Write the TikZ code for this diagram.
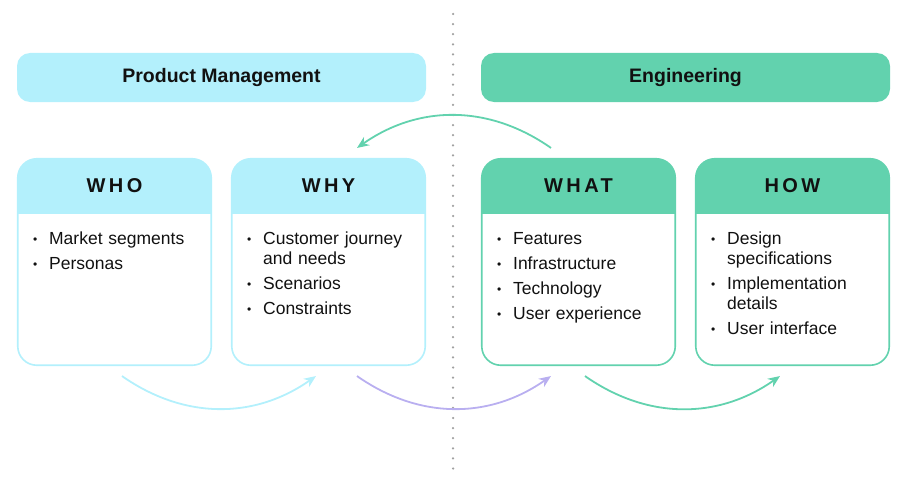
\documentclass[tikz,border=0pt]{standalone}
\usepackage{fontspec}
\setmainfont{Liberation Sans}
\newfontfamily\capsfont{Liberation Sans}[LetterSpace=17]
\usepackage{enumitem}
\usetikzlibrary{arrows.meta}
\definecolor{pmcyan}{HTML}{B3F0FC}
\definecolor{enggreen}{HTML}{62D2AE}
\definecolor{flowpurple}{HTML}{B9AFF0}
\definecolor{divgray}{HTML}{A0A0A0}
\definecolor{ink}{HTML}{111111}
\tikzset{
    every node/.style={text=ink},
    banner/.style={rounded corners=13pt, minimum width=409pt,
        minimum height=49pt, inner sep=0pt,
        font=\bfseries\fontsize{19.5}{22}\selectfont},
    card/.style={draw=#1, fill=white, line width=1.6pt, rounded corners=19pt,
        minimum width=193.5pt, minimum height=206.5pt, inner sep=0pt,
        path picture={\fill[#1, sharp corners]
            ([yshift=2pt]path picture bounding box.north west)
            rectangle ([yshift=-55pt]path picture bounding box.north east);}},
    cardtitle/.style={font=\capsfont\bfseries\fontsize{20}{22}\selectfont},
    bullets/.style={anchor=north west, text width=165pt, inner sep=0pt,
        align=left, font=\fontsize{17.5}{20}\selectfont}
}
\tikzset{
    flow/.style={line width=1.8pt, -{Stealth[length=12pt,width=10pt]}}
}
\newcommand{\bulletlist}[1]{%
    \begin{itemize}[leftmargin=16pt, labelwidth=16pt, labelsep=0pt, align=left,
        label={\raisebox{0.8pt}{\fontsize{12}{12}\selectfont\textbullet}},
        itemsep=5pt, topsep=0pt, parsep=0pt, partopsep=0pt]#1\end{itemize}}

\begin{document}
\begin{tikzpicture}[x=1pt, y=1pt]
    \useasboundingbox (0,0) rectangle (908,-487);

    % divider between the two teams
    \coordinate (divtop) at (453,-14);
    \coordinate (divbot) at (453,-470);
    \draw[divgray, line width=2.5pt, line cap=round,
        dash pattern=on 0pt off 10.1pt] (divtop) -- (divbot);

    \node (pm) [banner, fill=pmcyan] at (221.5,-77.5) {Product Management};
    \node (eng) [banner, fill=enggreen] at (685.5,-77.5) {Engineering};

    \node (who) [card=pmcyan] at (114.5,-262) {};
    \node (why) [card=pmcyan] at (328.5,-262) {};
    \node (what) [card=enggreen] at (578.5,-262) {};
    \node (how) [card=enggreen] at (792.5,-262) {};

    \node (whot) [cardtitle] at ([yshift=-28pt]who.north) {WHO};
    \node (whyt) [cardtitle] at ([yshift=-28pt]why.north) {WHY};
    \node (whatt) [cardtitle] at ([yshift=-28pt]what.north) {WHAT};
    \node (howt) [cardtitle] at ([yshift=-28pt]how.north) {HOW};

    \node (whol) [bullets] at ([xshift=16pt, yshift=-66pt]who.north west)
        {\bulletlist{\item Market segments \item Personas}};
    \node (whyl) [bullets] at ([xshift=16pt, yshift=-66pt]why.north west)
        {\bulletlist{\item Customer journey\newline and needs
            \item Scenarios \item Constraints}};
    \node (whatl) [bullets] at ([xshift=16pt, yshift=-66pt]what.north west)
        {\bulletlist{\item Features \item Infrastructure
            \item Technology \item User experience}};
    \node (howl) [bullets] at ([xshift=16pt, yshift=-66pt]how.north west)
        {\bulletlist{\item Design\newline specifications
            \item Implementation\newline details \item User interface}};

    % hand-over arrows
    \draw[flow, pmcyan] ([xshift=7.5pt, yshift=-10pt]who.south)
        to[bend right=35] ([xshift=-12.5pt, yshift=-10pt]why.south);
    \draw[flow, flowpurple] ([xshift=28.5pt, yshift=-10pt]why.south)
        to[bend right=35] ([xshift=-27.5pt, yshift=-10pt]what.south);
    \draw[flow, enggreen] ([xshift=6.5pt, yshift=-10pt]what.south)
        to[bend right=35] ([xshift=-12.5pt, yshift=-10pt]how.south);
    \draw[flow, enggreen] ([xshift=-27.5pt, yshift=10pt]what.north)
        to[bend right=35] ([xshift=28.5pt, yshift=10pt]why.north);
\end{tikzpicture}
\end{document}
